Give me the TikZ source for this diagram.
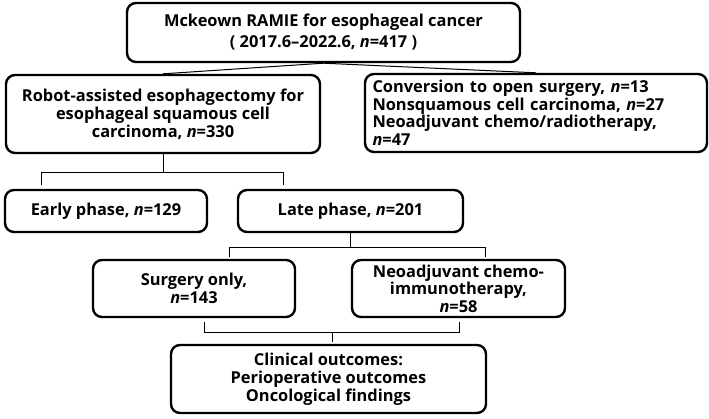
\documentclass[tikz,border=0pt]{standalone}
\usepackage{fontspec}
\setmainfont{Open Sans}
\begin{document}
\begin{tikzpicture}[x=1pt, y=-1pt,
    box/.style={draw, line width=2.4pt, rounded corners=9pt, inner sep=0pt,
        align=center, font=\bfseries\fontsize{16.4}{18}\selectfont},
    link/.style={line width=1pt}]
\useasboundingbox (0,0) rectangle (709,418);

\node[box, minimum width=393, minimum height=59] (top) at (323.5,32.5)
    {Mckeown RAMIE for esophageal cancer\\[3pt]( 2017.6--2022.6, \textit{n}=417 )};
\node[box, minimum width=314, minimum height=78] (robot) at (163,114)
    {Robot-assisted esophagectomy for\\esophageal squamous cell\\carcinoma, \textit{n}=330};
\node[box, minimum width=342, minimum height=78, text width=327, align=left,
    font=\bfseries\fontsize{16.4}{17.5}\selectfont] (excl) at (536,113)
    {Conversion to open surgery, \textit{n}=13\\Nonsquamous cell carcinoma, \textit{n}=27\\
     Neoadjuvant chemo/radiotherapy,\\\textit{n}=47};
\node[box, minimum width=202, minimum height=42] (early) at (106,211) {Early phase, \textit{n}=129};
\node[box, minimum width=225, minimum height=42] (late) at (350.5,211) {Late phase, \textit{n}=201};
\node[box, minimum width=202, minimum height=57] (surg) at (194,288.5)
    {Surgery only,\\\textit{n}=143};
\node[box, minimum width=213, minimum height=57,
    font=\bfseries\fontsize{16.4}{17.5}\selectfont] (neo) at (458.5,288.5)
    {Neoadjuvant chemo-\\immunotherapy,\\\textit{n}=58};
\node[box, minimum width=315, minimum height=68] (clin) at (328.5,379)
    {Clinical outcomes:\\Perioperative outcomes\\Oncological findings};

\coordinate (e1) at (41,185);
\coordinate (e2) at (283,185);
\coordinate (l1) at (229,257);
\coordinate (l2) at (485,257);
\coordinate (s1) at (204,322);
\coordinate (s2) at (459,322);
\coordinate (c1) at (332,342);

\draw[link] (top.south) -- (robot.north);
\draw[link] (top.south) -- (excl.north);
\draw[link] (robot.south) -- ++(0,18) coordinate (r1);
\draw[link] (e1) |- (r1) -| (e2);
\draw[link] (late.south) -- ++(0,14) coordinate (t1);
\draw[link] (l1) |- (t1) -| (l2);
\draw[link] (s1) -- ++(0,10) -| (s2);
\draw[link] (c1) -- ++(0,-10);
\end{tikzpicture}
\end{document}
